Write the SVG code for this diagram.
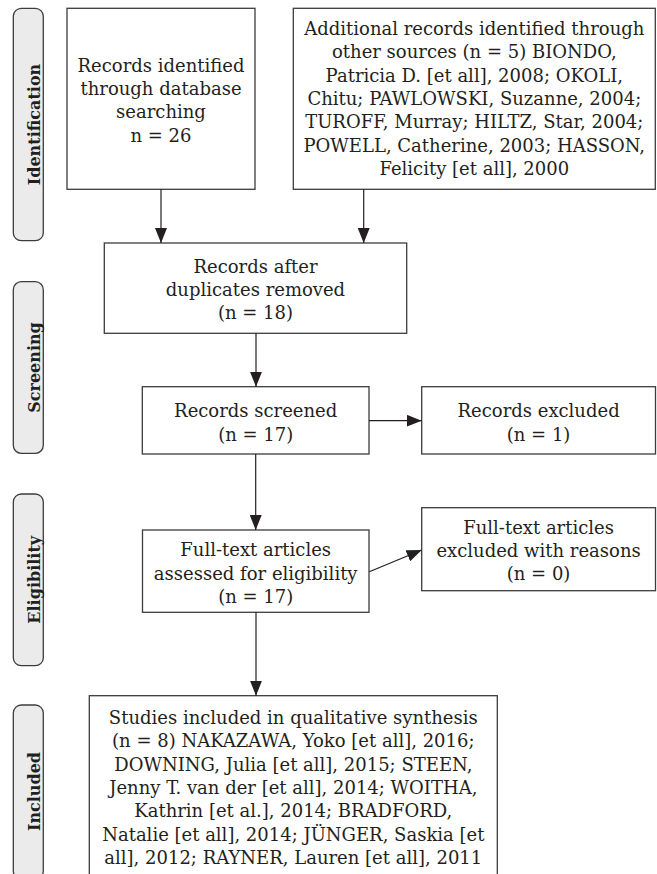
<svg xmlns="http://www.w3.org/2000/svg" width="657" height="874" viewBox="0 0 657 874">
<style>
.box{fill:#ffffff;stroke:#3c3c3c;stroke-width:1.3}
.lab{fill:#ebebeb;stroke:#3c3c3c;stroke-width:1.3}
.t{font-family:"DejaVu Serif","Liberation Serif",serif;font-size:18px;fill:#231f20;text-anchor:middle}
.lt{font-family:"DejaVu Serif","Liberation Serif",serif;font-size:16px;font-weight:bold;fill:#231f20;text-anchor:middle}
.c{stroke:#231f20;stroke-width:1.2;fill:none;marker-end:url(#ah)}
</style>
<defs>
<marker id="ah" markerUnits="userSpaceOnUse" markerWidth="15" markerHeight="12" refX="15" refY="6" orient="auto">
<path d="M0,0 L15,6 L0,12 z" fill="#231f20"/>
</marker>
</defs>
<g id="label-identification">
<rect class="lab" x="13.3" y="8.3" width="30" height="232.4" rx="8"/>
<text class="lt" transform="translate(39.5,124.5) rotate(-90)">Identification</text>
</g>
<g id="label-screening">
<rect class="lab" x="13.3" y="281.7" width="30" height="171.6" rx="8"/>
<text class="lt" transform="translate(39.5,367.5) rotate(-90)">Screening</text>
</g>
<g id="label-eligibility">
<rect class="lab" x="13.3" y="494" width="30" height="171.7" rx="8"/>
<text class="lt" transform="translate(39.5,579.8) rotate(-90)">Eligibility</text>
</g>
<g id="label-included">
<rect class="lab" x="13.3" y="705" width="30" height="174" rx="8"/>
<text class="lt" transform="translate(39.5,791.5) rotate(-90)">Included</text>
</g>
<g id="n-database">
<rect class="box" x="67" y="8.3" width="188" height="181"/>
<text class="t" x="161" y="71.7">Records identified</text>
<text class="t" x="161" y="95">through database</text>
<text class="t" x="161" y="118.3">searching</text>
<text class="t" x="161" y="141.7">n = 26</text>
</g>
<g id="n-other">
<rect class="box" x="293.3" y="8.3" width="362" height="181"/>
<text class="t" x="474.3" y="35">Additional records identified through</text>
<text class="t" x="474.3" y="58.3">other sources (n = 5) BIONDO,</text>
<text class="t" x="474.3" y="81.7">Patricia D. [et all], 2008; OKOLI,</text>
<text class="t" x="474.3" y="105">Chitu; PAWLOWSKI, Suzanne, 2004;</text>
<text class="t" x="474.3" y="128.3">TUROFF, Murray; HILTZ, Star, 2004;</text>
<text class="t" x="474.3" y="151.7">POWELL, Catherine, 2003; HASSON,</text>
<text class="t" x="474.3" y="175">Felicity [et all], 2000</text>
</g>
<g id="n-duplicates">
<rect class="box" x="104.3" y="243" width="302.4" height="90.3"/>
<text class="t" x="255.5" y="272.5">Records after</text>
<text class="t" x="255.5" y="295.8">duplicates removed</text>
<text class="t" x="255.5" y="319">(n = 18)</text>
</g>
<g id="n-screened">
<rect class="box" x="142.3" y="386.7" width="226.7" height="67.3"/>
<text class="t" x="255.7" y="417">Records screened</text>
<text class="t" x="255.7" y="441">(n = 17)</text>
</g>
<g id="n-excluded">
<rect class="box" x="421.7" y="386.7" width="233.8" height="67.3"/>
<text class="t" x="538.6" y="417">Records excluded</text>
<text class="t" x="538.6" y="441">(n = 1)</text>
</g>
<g id="n-assessed">
<rect class="box" x="142.5" y="530" width="226.5" height="82.3"/>
<text class="t" x="255.7" y="556">Full-text articles</text>
<text class="t" x="255.7" y="579.5">assessed for eligibility</text>
<text class="t" x="255.7" y="603">(n = 17)</text>
</g>
<g id="n-excluded-reasons">
<rect class="box" x="421.7" y="507.7" width="233.8" height="83"/>
<text class="t" x="538.6" y="534">Full-text articles</text>
<text class="t" x="538.6" y="557">excluded with reasons</text>
<text class="t" x="538.6" y="580">(n = 0)</text>
</g>
<g id="n-included">
<rect class="box" x="89.3" y="695.7" width="408" height="190"/>
<text class="t" x="293.3" y="724">Studies included in qualitative synthesis</text>
<text class="t" x="293.3" y="747.3">(n = 8) NAKAZAWA, Yoko [et all], 2016;</text>
<text class="t" x="293.3" y="770.5">DOWNING, Julia [et all], 2015; STEEN,</text>
<text class="t" x="293.3" y="794">Jenny T. van der [et all], 2014; WOITHA,</text>
<text class="t" x="293.3" y="817">Kathrin [et al.], 2014; BRADFORD,</text>
<text class="t" x="293.3" y="840.5">Natalie [et all], 2014; JÜNGER, Saskia [et</text>
<text class="t" x="293.3" y="863.5">all], 2012; RAYNER, Lauren [et all], 2011</text>
</g>
<g id="connectors">
<line class="c" x1="161" y1="189.3" x2="161" y2="243"/>
<line class="c" x1="363.7" y1="189.3" x2="363.7" y2="243"/>
<line class="c" x1="256" y1="333.3" x2="256" y2="386.7"/>
<line class="c" x1="369" y1="420.7" x2="421.7" y2="420.7"/>
<line class="c" x1="255.7" y1="454" x2="255.7" y2="530"/>
<line class="c" x1="369.3" y1="571.7" x2="421.7" y2="550"/>
<line class="c" x1="256" y1="612.3" x2="256" y2="695.7"/>
</g>
</svg>
